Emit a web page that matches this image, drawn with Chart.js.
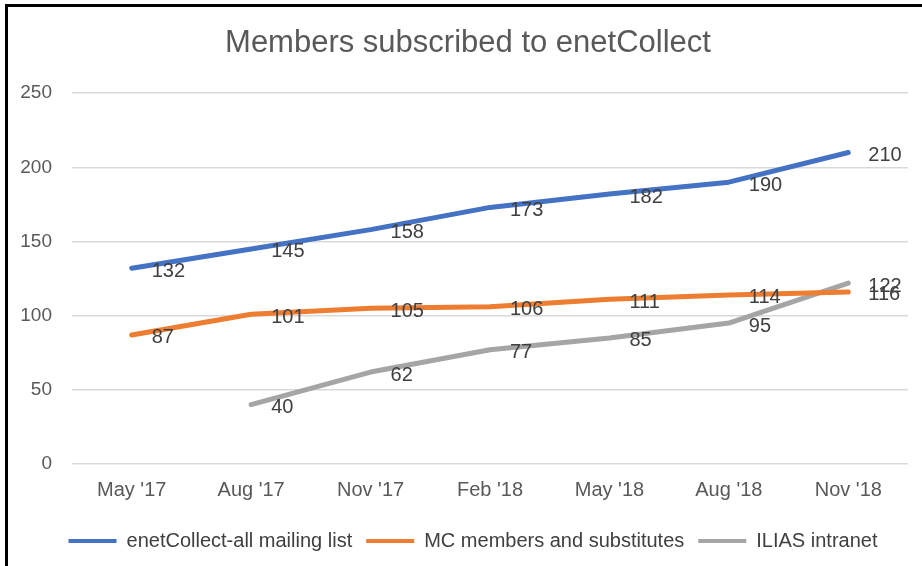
<!DOCTYPE html>
<html>
<head>
<meta charset="utf-8">
<script src="https://cdn.jsdelivr.net/npm/chart.js@4/dist/chart.umd.min.js"></script>
<style>
  html, body { margin: 0; padding: 0; background: #fff; }
  #wrap { position: relative; width: 922px; height: 566px; overflow: hidden; }
  #c { position: absolute; left: 0; top: 0; }
  #frame { position: absolute; left: 5px; top: 4px; width: 930px; height: 580px;
           border-left: 3px solid #000; border-top: 3px solid #000; pointer-events: none; }
</style>
</head>
<body>
<div id="wrap">
  <canvas id="c" width="922" height="566"></canvas>
  <div id="frame"></div>
</div>
<script>
const categories = ["May '17", "Aug '17", "Nov '17", "Feb '18", "May '18", "Aug '18", "Nov '18"];
const mailingList = [132, 145, 158, 173, 182, 190, 210];
const mcMembers = [87, 101, 105, 106, 111, 114, 116];
const iliasIntranet = [null, 40, 62, 77, 85, 95, 122];
const seriesNames = ["enetCollect-all mailing list", "MC members and substitutes", "ILIAS intranet"];
const yTicks = [0, 50, 100, 150, 200, 250];

const FONT = "'Liberation Sans', Arial, sans-serif";

const dataLabels = {
  id: 'dataLabels',
  afterDatasetsDraw(chart) {
    const ctx = chart.ctx;
    ctx.save();
    ctx.font = '20px ' + FONT;
    ctx.fillStyle = '#404040';
    ctx.textAlign = 'left';
    ctx.textBaseline = 'middle';
    chart.data.datasets.forEach((ds, di) => {
      const meta = chart.getDatasetMeta(di);
      meta.data.forEach((pt, i) => {
        const v = ds.data[i];
        if (v === null || v === undefined) return;
        ctx.fillText(String(v), pt.x + 20, pt.y + 3);
      });
    });
    ctx.restore();
  }
};

// shift title and legend centres to match the reference (which is centred on the uncropped chart)
const shiftBoxes = {
  id: 'shiftBoxes',
  afterLayout(chart) {
    if (chart.legend) { chart.legend.left += 19; chart.legend.right += 19; }
    if (chart.titleBlock) { chart.titleBlock.left += 14; chart.titleBlock.right += 14; }
  }
};

const mk = (label, data, color) => ({
  label, data,
  borderColor: color, backgroundColor: color,
  borderWidth: 5, pointRadius: 0, pointHoverRadius: 0,
  tension: 0, spanGaps: false, borderCapStyle: 'round', borderJoinStyle: 'round'
});

new Chart(document.getElementById('c'), {
  type: 'line',
  data: {
    labels: categories,
    datasets: [
      mk(seriesNames[0], mailingList, '#4472C4'),
      mk(seriesNames[1], mcMembers, '#ED7D31'),
      mk(seriesNames[2], iliasIntranet, '#A5A5A5')
    ]
  },
  options: {
    responsive: false,
    animation: false,
    events: [],
    layout: { padding: { left: 0, right: 14, top: 0, bottom: 5 } },
    plugins: {
      title: {
        display: true,
        text: 'Members subscribed to enetCollect',
        color: '#595959',
        font: { family: FONT, size: 31, weight: 'normal' },
        padding: { top: 25, bottom: 31 }
      },
      legend: {
        display: true,
        position: 'bottom',
        labels: {
          color: '#404040',
          font: { family: FONT, size: 20 },
          boxWidth: 48,
          boxHeight: 4,
          padding: 14,
          generateLabels(chart) {
            const items = Chart.defaults.plugins.legend.labels.generateLabels(chart);
            items.forEach(it => { it.lineWidth = 0; it.fillStyle = it.strokeStyle; });
            return items;
          }
        }
      },
      tooltip: { enabled: false }
    },
    scales: {
      x: {
        offset: true,
        grid: { display: false, drawTicks: false },
        border: { display: false },
        ticks: { color: '#595959', font: { family: FONT, size: 20 }, padding: 14.5, maxRotation: 0 }
      },
      y: {
        min: 0, max: 250,
        afterBuildTicks(scale) { scale.ticks = yTicks.map(v => ({ value: v })); },
        afterFit(scale) { scale.width = 72; },
        grid: { color: '#D9D9D9', lineWidth: 1.5, drawTicks: false },
        border: { display: false },
        ticks: { color: '#595959', font: { family: FONT, size: 19 }, padding: 20 }
      }
    }
  },
  plugins: [dataLabels, shiftBoxes]
});
</script>
</body>
</html>
